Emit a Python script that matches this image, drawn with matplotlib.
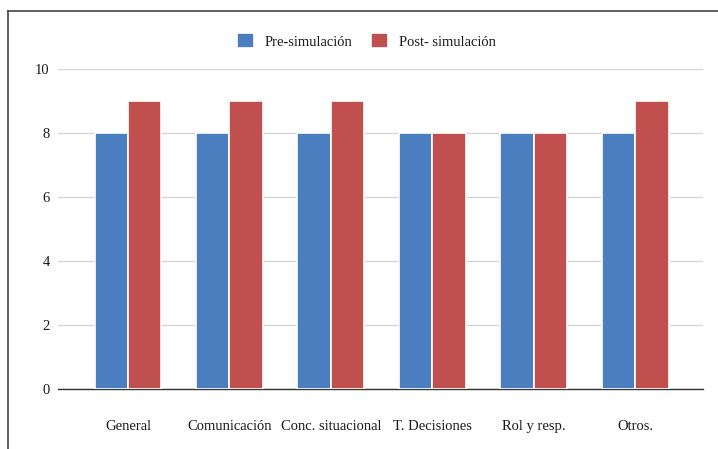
import numpy as np
import matplotlib.pyplot as plt
from matplotlib.lines import Line2D

categorias = ["General", "Comunicación", "Conc. situacional", "T. Decisiones", "Rol y resp.", "Otros."]
pre_sim = [8, 8, 8, 8, 8, 8]
post_sim = [9, 9, 9, 8, 8, 9]
series_labels = ["Pre-simulación", "Post- simulación"]

azul = "#4a7ebf"
rojo = "#c0504d"

plt.rcParams['font.family'] = ['Liberation Serif', 'DejaVu Serif']

fig = plt.figure(figsize=(7.18, 4.49), dpi=100)
ax = fig.add_axes([58 / 718, 1 - 389 / 449, (703 - 58) / 718, (389 - 69) / 449])

x = np.arange(len(categorias))
w = 0.33
ax.bar(x - w / 2, pre_sim, w, color=azul, edgecolor="white", linewidth=1.2, label=series_labels[0], zorder=3)
ax.bar(x + w / 2, post_sim, w, color=rojo, edgecolor="white", linewidth=1.2, label=series_labels[1], zorder=3)

ax.set_xlim(-0.69, 5.67)
ax.set_ylim(0, 10)
ax.set_yticks([0, 2, 4, 6, 8, 10])
ax.grid(axis="y", color="#d6d6d6", linewidth=1, zorder=0)
ax.set_xticks(x)
ax.set_xticklabels(categorias, fontsize=10.5, color="#1a1a1a")
ax.tick_params(axis="x", length=0, pad=22)
ax.tick_params(axis="y", length=0, pad=6, labelsize=10.5, labelcolor="#1a1a1a")
for s in ["top", "right", "left"]:
    ax.spines[s].set_visible(False)
ax.spines["bottom"].set_color("#333333")
ax.spines["bottom"].set_linewidth(1)

fig.legend(loc="center", bbox_to_anchor=(366 / 718, 1 - 41 / 449), ncol=2, frameon=False,
           fontsize=10.5, handlelength=1.2, handleheight=1.2, columnspacing=1.3, handletextpad=0.7,
           labelcolor="#1a1a1a")

# marco de la captura
fig.add_artist(Line2D([8 / 718, 1], [1 - 11 / 449, 1 - 11 / 449], color="#444444", linewidth=1.2))
fig.add_artist(Line2D([8 / 718, 8 / 718], [0, 1 - 11 / 449], color="#444444", linewidth=1.2))

fig.savefig("out.png", dpi=100)
